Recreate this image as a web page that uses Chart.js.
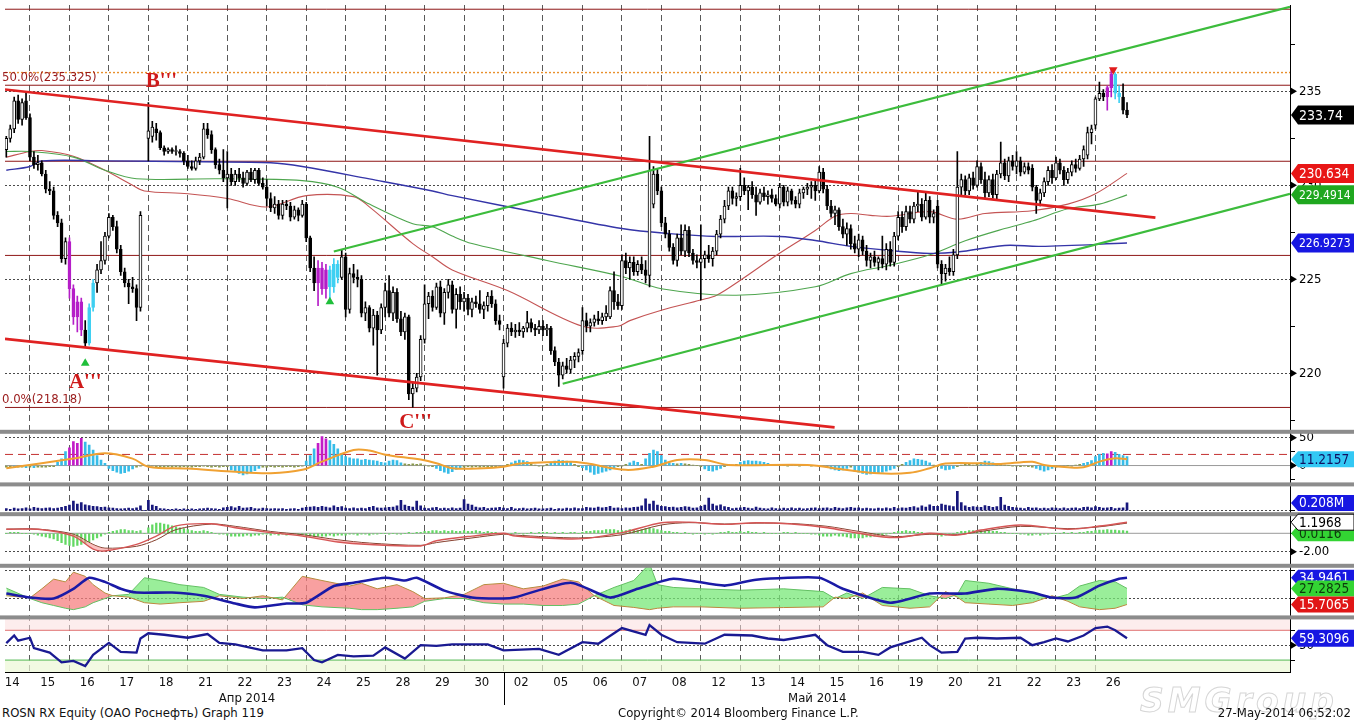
<!DOCTYPE html>
<html><head><meta charset="utf-8">
<script src="https://cdn.jsdelivr.net/npm/chart.js@4.4.1/dist/chart.umd.min.js"></script>
<style>
html,body{margin:0;padding:0;background:#fff;}
#wrap{position:relative;width:1354px;height:723px;overflow:hidden;background:#fff;}
#cv{position:absolute;left:0;top:0;width:1354px;height:705px;}
.ft{position:absolute;top:705px;font:13px "DejaVu Sans Condensed","DejaVu Sans",sans-serif;color:#111;white-space:nowrap;}
#wm{position:absolute;left:1140px;top:681px;font:italic bold 33px "DejaVu Sans",sans-serif;color:#fff;-webkit-text-stroke:1px #d6d6d6;letter-spacing:4px;}
</style></head>
<body><div id="wrap"><div id="cv"><canvas id="c"></canvas></div>
<div id="wm">SMGroup</div>
<div class="ft" style="left:2px">ROSN RX Equity (ОАО Роснефть) Graph 119</div>
<div class="ft" style="left:618px">Copyright© 2014 Bloomberg Finance L.P.</div>
<div class="ft" style="right:3px">27-May-2014 06:52:02</div>
</div>
<script>
// ---------------- DATA ----------------
const dayLabels = ['14','15','16','17','18','21','22','23','24','25','28','29','30','02','05','06','07','08','12','13','14','15','16','19','20','21','22','23','26'];
const barsPerDay = [6,10,10,10,10,10,10,10,10,10,10,10,10,10,10,10,10,10,10,10,10,10,10,10,10,10,10,10,9];
const monthLabels = ['Апр 2014','Май 2014'];
const monthFirstDay = [0,13];

// hourly candles [open, high, low, close]
const candles = [
[231.9,232.6,231.5,232.5],[232.5,233.2,232.3,233.0],[233.0,234.7,232.8,234.5],[234.5,234.8,233.3,233.5],[233.5,234.6,233.2,234.4],[234.5,234.9,233.5,233.6],
[233.6,233.8,231.3,231.5],[231.5,231.8,230.9,231.1],[231.1,231.6,230.8,231.2],[231.2,231.3,230.5,230.6],[230.6,230.8,229.6,229.8],[229.8,230.2,229.5,229.7],[229.7,229.9,228.2,228.4],[228.4,228.6,227.8,228.0],[228.0,228.2,225.9,226.1],[226.1,227.2,225.8,227.0],
[227.0,227.2,224.0,224.5],[224.5,224.7,222.6,223.0],[223.0,224.1,222.2,223.8],[223.8,224.0,222.0,222.3],[222.3,222.8,221.4,221.6],[221.6,223.7,221.5,223.5],[223.5,225.0,223.3,224.8],[224.8,225.8,224.3,225.5],[225.5,227.0,225.3,226.0],[226.0,227.5,225.8,227.3],
[227.3,228.5,227.2,228.3],[228.3,228.4,227.6,227.8],[227.8,228.1,226.4,226.6],[226.6,226.8,225.2,225.4],[225.4,225.6,224.6,224.8],[224.8,225.0,223.7,224.6],[224.6,225.1,224.3,224.5],[224.5,224.7,222.8,223.5],[223.5,228.6,223.3,228.4],null,
[232.5,234.4,231.3,232.9],[232.6,233.4,232.3,233.1],[233.0,233.3,232.4,232.8],[232.8,232.9,231.9,232.0],[232.0,232.1,231.6,231.8],[231.8,232.0,231.7,231.9],[231.9,232.0,231.7,231.8],[231.8,232.1,231.6,231.8],[231.8,231.9,231.5,231.7],[231.7,231.8,231.1,231.3],
[231.3,231.6,230.9,231.0],[231.0,231.3,230.8,230.9],[230.9,231.5,230.8,231.3],[231.3,231.7,231.1,231.5],[231.5,233.3,231.4,233.0],[233.0,233.3,232.5,232.7],[232.7,232.9,231.7,231.9],[231.9,232.0,230.9,231.1],[231.1,231.4,230.6,230.8],[230.8,231.9,230.2,230.4],
[230.4,231.8,228.8,230.6],[230.6,230.9,230.0,230.2],[230.2,230.8,230.0,230.6],[230.6,230.9,230.2,230.4],[230.4,230.7,229.9,230.1],[230.1,230.8,230.0,230.7],[230.7,230.9,230.2,230.3],[230.3,230.9,230.1,230.8],[230.8,230.9,230.0,230.1],[230.1,230.4,229.8,229.9],
[229.9,230.3,228.9,229.3],[229.3,229.6,228.6,228.8],[228.8,229.4,228.5,229.0],[229.0,229.2,228.2,228.4],[228.4,229.2,228.2,229.0],[229.0,229.2,228.7,228.9],[228.9,229.1,228.1,228.3],[228.3,228.9,228.2,228.7],[228.7,228.8,228.1,228.4],[228.4,229.2,228.3,229.0],
[229.0,229.1,227.0,227.2],[227.2,227.3,225.4,225.6],[225.6,226.2,224.4,224.8],[224.8,226.0,223.6,225.6],[225.6,225.9,224.2,224.5],[224.5,225.8,224.0,225.5],[225.5,225.7,224.0,224.6],[224.6,226.1,224.3,225.8],[225.8,226.0,224.8,225.1],[225.1,226.6,225.0,226.2],
[226.2,226.4,223.0,223.4],[223.4,225.6,223.2,225.3],[225.3,225.8,224.8,225.1],[225.1,225.5,224.6,225.0],[225.0,225.2,223.0,223.2],[223.2,223.8,222.8,223.5],[223.5,223.6,222.2,222.4],[222.4,223.4,221.5,223.1],[223.1,223.3,219.9,222.3],[222.3,223.7,222.1,223.5],
[223.5,224.8,223.0,224.4],[224.4,225.2,223.0,223.2],[223.2,224.6,222.8,224.3],[224.3,224.5,222.7,222.9],[222.9,223.3,222.0,222.2],[222.2,223.2,221.8,223.0],[223.0,223.1,218.6,218.9],[218.9,219.5,218.2,219.2],[219.2,220.0,219.0,219.8],[219.8,222.0,219.6,221.8],
[221.8,224.7,221.6,223.7],[223.7,224.3,222.9,224.1],[224.1,224.4,223.3,223.5],[223.5,224.8,223.4,224.6],[224.6,224.9,223.0,223.2],[223.2,224.5,222.6,224.3],[224.3,225.0,224.0,224.7],[224.7,224.9,223.2,223.4],[223.4,224.5,222.4,224.2],[224.2,224.6,223.4,223.8],
[223.8,224.3,223.3,224.0],[224.0,224.2,223.1,223.4],[223.4,224.0,223.0,223.8],[223.8,224.1,223.5,223.7],[223.7,224.4,223.2,223.4],[223.4,223.8,222.9,223.6],[223.6,224.3,223.3,224.1],[224.1,224.4,223.5,223.7],[223.7,223.9,222.6,222.8],[222.8,223.1,222.3,222.6],
[219.8,221.8,219.2,221.6],[221.6,222.6,221.4,222.4],[222.4,222.7,222.0,222.2],[222.2,222.6,221.9,222.3],[222.3,222.7,222.0,222.2],[222.2,222.5,221.9,222.4],[222.4,223.3,222.2,222.7],[222.7,222.9,222.2,222.4],[222.4,222.6,222.0,222.3],[222.3,222.8,222.1,222.5],
[222.5,222.8,222.0,222.3],[222.3,222.6,222.0,222.4],[222.4,222.5,221.0,221.2],[221.2,221.4,220.4,220.6],[220.6,220.8,219.3,219.9],[219.9,220.6,219.7,220.4],[220.4,220.8,220.0,220.2],[220.2,220.9,220.0,220.7],[220.7,221.1,220.3,220.9],[220.9,221.3,220.6,221.1],
[221.2,223.5,221.0,222.8],[222.8,223.2,222.2,222.5],[222.5,222.9,222.2,222.7],[222.7,223.1,222.5,222.9],[222.9,223.3,222.6,222.8],[222.8,223.2,222.6,223.0],[223.0,223.6,222.8,223.2],[223.0,224.6,222.9,224.4],[224.4,225.4,223.4,223.8],[223.8,224.2,223.4,223.6],
[223.6,226.3,223.4,226.0],[226.0,226.4,225.3,225.6],[225.6,226.2,225.0,225.9],[225.9,226.2,225.2,225.4],[225.4,226.0,225.2,225.8],[225.8,226.2,225.3,225.5],[225.5,226.0,224.8,225.2],[225.2,232.6,224.6,230.8],[229.0,231.0,228.8,230.6],[230.6,230.9,229.5,229.7],
[229.7,229.9,227.8,228.0],[228.0,228.3,227.2,227.4],[227.4,227.6,226.5,226.7],[226.7,226.9,225.8,226.0],[226.0,227.4,225.7,227.2],[227.2,227.9,226.3,226.5],[226.5,227.9,226.2,227.6],[227.6,227.8,226.2,226.4],[226.4,226.6,225.8,226.0],[226.0,226.3,225.6,225.9],
[225.9,227.9,223.9,226.1],[226.1,226.5,225.6,226.3],[226.3,226.8,225.9,226.1],[226.1,226.7,225.7,226.5],[226.5,227.6,226.3,227.4],[227.4,228.4,227.2,228.2],[228.2,229.2,228.0,228.9],[228.9,229.9,228.7,229.7],[229.7,229.9,229.0,229.3],[229.3,229.6,228.9,229.4],
[229.4,230.9,229.2,230.0],[230.0,230.4,229.5,229.7],[229.7,230.0,228.7,229.9],[229.9,230.2,229.3,229.5],[229.5,229.9,228.4,229.1],[229.1,229.8,229.0,229.6],[229.6,229.9,229.2,229.4],[229.4,229.7,229.0,229.5],[229.5,229.8,229.1,229.3],[229.3,229.5,228.9,229.0],
[229.0,230.1,228.8,229.9],[229.9,230.0,228.9,229.1],[229.1,229.9,228.9,229.7],[229.7,229.8,229.0,229.2],[229.2,229.4,228.8,229.0],[229.0,229.8,228.8,229.6],[229.6,229.9,229.3,229.8],[229.8,230.1,229.5,229.9],[229.9,230.2,229.3,230.0],[230.0,230.3,229.2,229.7],
[229.7,231.0,229.6,230.7],[230.7,230.9,229.6,229.8],[229.8,230.0,228.7,228.9],[228.9,229.2,228.3,228.5],[228.5,228.9,227.9,228.7],[228.7,228.8,227.6,227.8],[227.8,228.2,227.2,227.4],[227.4,228.0,226.8,227.7],[227.7,227.9,226.6,226.9],[226.9,227.3,226.4,226.6],
[226.6,227.4,226.2,227.1],[227.1,227.3,226.3,226.5],[226.5,226.8,225.7,226.0],[226.0,226.4,225.6,226.2],[226.2,226.5,225.7,225.9],[225.9,226.2,225.5,226.1],[226.1,227.3,225.6,225.8],[225.8,226.9,225.5,226.6],[226.6,227.0,225.7,225.9],[225.9,227.5,225.7,227.3],
[227.3,228.6,227.1,228.3],[228.3,228.6,227.5,227.8],[227.8,228.9,227.6,228.6],[228.6,228.9,228.0,228.2],[228.2,229.1,228.0,228.9],[228.9,229.7,228.6,229.0],[229.0,229.3,228.1,228.3],[228.3,229.6,228.2,229.2],[229.2,229.4,228.0,228.3],[228.3,228.7,228.0,228.5],
[228.9,229.2,225.6,225.8],[225.8,226.0,224.7,225.3],[225.3,225.8,224.9,225.6],[225.6,226.2,225.2,225.4],[225.4,226.6,225.2,226.3],[226.3,231.8,226.1,229.9],[229.9,230.6,229.4,230.3],[230.3,230.5,229.5,229.7],[229.7,230.6,229.5,230.4],[230.4,230.7,229.8,230.0],
[230.0,231.3,229.9,231.0],[231.0,231.2,230.1,230.3],[230.3,230.7,229.3,229.6],[229.6,230.5,229.4,230.3],[230.3,230.6,229.3,229.5],[229.5,230.8,229.2,230.6],[230.6,232.3,230.4,231.2],[231.2,231.4,230.3,230.5],[230.5,231.5,230.2,231.3],[231.3,231.6,230.8,231.0],
[231.0,231.8,230.6,231.3],[231.3,231.5,230.5,230.7],[230.7,231.2,230.6,231.0],[231.0,231.2,230.6,230.8],[230.9,231.1,229.7,229.9],[229.9,230.0,228.5,229.2],[229.2,229.8,228.9,229.6],[229.6,230.4,229.4,230.2],[230.2,231.0,230.0,230.8],[230.8,231.1,230.1,230.4],
[230.4,231.5,230.3,231.2],[231.2,231.4,230.6,230.8],[230.8,231.0,230.0,230.3],[230.3,230.9,230.1,230.7],[230.7,231.3,230.5,231.1],[231.1,231.4,230.7,230.9],[230.9,231.6,230.8,231.4],[231.4,232.1,231.0,231.9],[231.6,233.1,231.4,232.8],[232.8,233.2,232.2,233.0],
[233.2,234.7,233.0,234.6],[234.6,235.5,234.5,234.9],[234.9,235.1,234.5,234.7],[234.7,235.3,234.0,235.2],[235.2,236.2,234.7,235.9],[235.9,236.0,234.6,234.9],[234.9,235.3,234.4,234.7],[234.7,235.4,233.8,234.0],[234.0,234.4,233.6,233.74]
];
const sellSetup = [16,17,18,19,79,80,81,279,280];
const buySetup  = [21,22,82,83,84,281,282];

// moving averages [barIndex, price]
const blueMA = [[0,230.8],[6,231.0],[9,231.3],[25,231.3],[50,231.25],[67,231.2],[75,231.0],[92,230.34],[108,229.7],[113,229.45],[136,228.5],[156,227.7],[168,227.43],[180,227.28],[196,227.28],[205,227.06],[214,226.75],[224,226.53],[234,226.38],[241,226.45],[253,226.8],[262,226.75],[284,226.9273]];
const greenMA = [[0,231.8],[6,231.8],[17,231.5],[25,230.8],[33,230.35],[54,230.35],[75,230.25],[84,229.9],[92,229.0],[103,227.95],[108,227.8],[113,227.3],[118,226.9],[137,226.0],[156,225.15],[166,224.5],[185,224.15],[205,224.6],[214,225.3],[224,225.75],[234,226.3],[243,227.05],[253,227.7],[260,228.1],[269,228.75],[277,229.0],[284,229.4914]];
const redMA = [[0,231.5],[6,231.8],[9,231.85],[17,231.55],[25,230.8],[32,230.0],[35,229.7],[46,229.55],[56,229.3],[66,228.85],[76,229.45],[88,229.4],[92,228.85],[103,226.9],[108,226.2],[113,225.5],[127,224.4],[146,222.5],[155,222.5],[158,222.8],[166,223.35],[176,223.9],[180,224.15],[186,224.95],[195,226.25],[205,227.6],[210,228.35],[214,228.5],[219,228.4],[224,228.35],[234,228.6],[241,228.2],[248,228.5],[260,228.65],[269,229.0],[276,229.55],[284,230.634]];

// trend channels [barIndex, price]
const redUpper = [[-0.33,235.1],[291.2,228.28]];
const redLower = [[-0.33,221.83],[209.9,217.12]];
const greenUpper = [[83,226.48],[325.3,239.5]];
const greenLower = [[141,219.44],[325.3,229.55]];

const fibPct = [0,23.6,38.2,50,61.8];
const fibLevels = [218.18,226.27,231.28,235.325,239.37];
const fibLabelled = [0,50];
const highLevel = [236.0];

const buySignals = [[20,220.53],[82,223.8]];
const sellSignals = [[280.5,236.15]];
const waveNames = ["A'''","B'''","C'''"];
const waveIdx = [20,39.3,103.7];
const wavePrice = [219.52,235.53,217.4];

// oscillator panel
const oscHist = [
-3,-3,-4,-3,-3,-4,
-3,-4,-3,-3,-3,-2,-2,6,12,25,
32,43,40,49,42,37,28,18,10,4,
-5,-9,-12,-14,-13,-10,-6,-3,-1,0,
1,-1,-2,-2,-3,-2,-3,-2,-3,-2,
-2,-3,-2,-2,-1,-2,-3,-2,-3,-2,
-2,-8,-10,-14,-17,-15,-12,-9,-5,-3,
-3,-2,-3,-2,-3,-2,-2,-3,-2,-1,
8,18,30,40,52,48,45,38,30,22,
16,14,12,12,10,11,10,9,8,6,
5,8,10,9,5,3,2,3,2,3,
1,-1,-2,-5,-9,-12,-14,-11,-7,-4,
-3,-2,-3,-2,-3,-2,-3,-2,-2,-1,
-1,2,5,8,10,9,7,3,1,-1,
-1,2,5,8,10,9,8,6,2,-2,
-4,-8,-12,-16,-14,-12,-10,-8,-5,-2,
-1,2,5,8,6,2,12,22,28,25,
18,10,5,4,3,4,3,2,1,0,
-2,-6,-9,-10,-8,-5,-2,0,1,2,
6,8,9,8,8,7,6,4,2,1,
1,0,-1,1,0,-1,1,0,-1,0,
0,-1,-3,-6,-8,-9,-8,-5,-3,-10,
-12,-14,-16,-15,-14,-13,-12,-10,-8,-5,
-2,2,6,9,12,11,10,8,5,1,
-2,-5,-8,-7,-5,-2,1,3,2,1,
3,6,8,7,5,3,2,1,0,-1,
-1,-2,-1,-2,-3,-5,-8,-10,-8,-5,
-3,-2,-1,0,-1,1,2,4,6,9,
16,20,22,21,25,24,20,18,16];
const oscSignal = [[0,-4.8],[17,12.5],[25,22],[32,12.5],[36,-2],[46,-5.5],[57,-10.7],[67,-13.7],[75,-7.7],[80,7],[88,28],[92,27],[96,19.6],[105,10.7],[109,4.2],[113,-4.8],[121,-4.8],[126,-2],[131,4],[143,7],[147,4],[157,-7.7],[164,-2],[170,10],[177,10],[183,1.2],[203,1.2],[212,-7],[221,-14],[229,-13],[234,-4.8],[238,3.6],[247,4],[252,3],[260,7],[263,1],[269,-3],[273,-3],[277,7],[281,13],[284,11.2157]];
const oscLevels = [0,20];

// volume (thousand shares)
const volume = [
60,40,70,50,60,80,
50,90,70,60,70,80,60,70,90,120,
150,260,180,220,160,140,120,110,90,100,
80,70,60,50,60,70,60,80,130,0,
280,150,120,60,50,40,40,50,40,50,
40,50,40,50,60,70,60,50,40,80,
90,110,80,120,70,80,90,60,50,70,
60,50,60,50,60,40,50,60,40,70,
90,100,110,90,120,100,80,130,90,110,
70,60,80,60,70,60,90,120,80,70,
80,90,100,130,280,150,120,100,260,130,
70,60,80,90,60,70,60,80,60,70,
300,180,150,100,80,90,60,70,80,90,
70,60,90,50,60,70,50,60,70,50,
50,60,70,40,60,50,70,60,80,60,
60,90,80,70,100,80,90,120,70,80,
60,80,70,90,100,130,320,180,260,150,
120,110,90,100,80,90,110,100,70,80,
120,150,340,180,130,160,110,90,60,70,
80,90,70,60,100,70,60,50,80,60,
50,70,60,80,60,70,50,60,70,80,
60,70,80,60,90,70,60,80,90,70,
80,60,70,60,50,70,60,80,60,90,
60,80,70,90,110,80,130,100,160,120,
120,180,150,130,110,520,220,130,90,110,
100,90,140,120,90,110,360,150,120,90,
80,70,60,90,70,80,60,70,60,80,
70,60,80,60,70,80,60,90,100,80,
110,90,70,80,90,60,70,80,208];

// MACD panel
const macdLine = [[0,0.43],[8,0.43],[17,-0.3],[22,-1.7],[25,-1.9],[33,-1.2],[38,-0.3],[43,0.8],[52,1.03],[58,0.6],[67,0.07],[75,-0.3],[84,-0.93],[92,-1.2],[105,-1.36],[109,-0.8],[118,-0.3],[126,0],[129,-0.3],[145,-0.6],[156,0.07],[166,1.14],[173,1.2],[182,0.96],[190,1.14],[199,1.0],[208,0.6],[216,0],[225,-0.47],[234,0],[241,-0.2],[247,0.35],[257,0.9],[269,0.43],[277,0.78],[284,1.1968]];
const macdSignal = [[0,0.45],[8,0.45],[17,-0.1],[22,-1.2],[25,-1.6],[33,-1.4],[38,-0.7],[43,0.4],[52,1.0],[58,0.75],[67,0.2],[75,-0.15],[84,-0.7],[92,-1.05],[105,-1.3],[109,-1.0],[118,-0.5],[126,-0.1],[129,-0.2],[145,-0.5],[156,-0.15],[166,0.9],[173,1.15],[182,1.0],[190,1.1],[199,1.05],[208,0.75],[216,0.2],[225,-0.35],[234,-0.1],[241,-0.15],[247,0.2],[257,0.75],[269,0.5],[277,0.7],[284,1.1]];
const macdHist = [
0,0.1,0.1,0.1,0,0,
0,-0.1,-0.2,-0.3,-0.4,-0.5,-0.6,-0.8,-1.0,-1.2,
-1.3,-1.4,-1.3,-1.2,-1.1,-0.9,-0.7,-0.5,-0.3,-0.1,
0.1,0.2,0.3,0.4,0.4,0.3,0.3,0.2,0.3,0,
0.6,0.9,1.1,1.1,1.0,0.9,0.8,0.7,0.6,0.5,
0.4,0.3,0.2,0.2,0.3,0.2,0.1,0,-0.1,-0.1,
-0.2,-0.3,-0.3,-0.3,-0.3,-0.2,-0.3,-0.2,-0.2,-0.1,
-0.1,-0.2,-0.1,-0.2,-0.1,-0.2,-0.1,-0.1,-0.2,-0.2,
-0.3,-0.3,-0.4,-0.3,-0.3,-0.3,-0.2,-0.3,-0.2,-0.2,
-0.2,-0.1,-0.1,-0.2,-0.1,-0.1,-0.2,-0.1,-0.1,0,
0,-0.1,0,-0.1,-0.1,0,0.1,0,0.1,0.1,
0.2,0.2,0.3,0.3,0.2,0.3,0.2,0.3,0.2,0.2,
0.3,0.2,0.2,0.3,0.2,0.1,0.2,0.1,0.1,0,
0,-0.1,0,0.1,0,-0.1,0,0.1,0,0.1,
0.1,0.1,0,0.1,0,0.1,0,0.1,0.1,0,
0.1,0.2,0.2,0.3,0.3,0.3,0.4,0.4,0.4,0.3,
0.3,0.3,0.4,0.4,0.3,0.4,0.5,0.55,0.5,0.4,
0.3,0.2,0.2,0.1,0.1,0,0.1,0,-0.1,0,
0,-0.1,0,-0.1,0,0.1,0.1,0.2,0.1,0.1,
0.2,0.1,0.2,0.1,0.1,0,0.1,0,0,0,
0,0.1,0.1,0,0.1,0,0,0,-0.1,-0.1,
-0.2,-0.3,-0.3,-0.3,-0.2,-0.3,-0.3,-0.4,-0.5,-0.5,
-0.5,-0.5,-0.4,-0.4,-0.3,-0.3,-0.2,-0.1,0,0.1,
0.2,0.2,0.3,0.2,0.2,0.1,0.1,0,-0.1,-0.1,
-0.2,-0.3,-0.2,-0.1,0,0.1,0.2,0.2,0.3,0.3,
0.3,0.3,0.2,0.3,0.2,0.2,0.1,0.1,0,0,
0,-0.1,-0.1,-0.2,-0.2,-0.1,-0.2,-0.1,-0.1,0,
0,0,0.1,0,0.1,0,0.1,0.1,0.2,0.2,
0.3,0.35,0.35,0.4,0.35,0.35,0.3,0.3,0.25];

// DMI panel
const dmiIdx = [0,6,9,12,15,17,20,22,25,27,31,35,39,44,50,54,60,65,70,75,80,87,90,94,99,103,106,111,116,121,126,131,136,141,145,149,154,159,163,165,169,176,186,197,207,210,213,217,222,229,234,238,241,243,249,255,260,265,269,272,277,281,284];
const dmiPlus = [27.5,20,17,15,13,12,14,17,20,22,23,35,33,30,28,23,21,20,21,15.5,14,13,12,12,13,14,18,20,20,17,16,16,15,15,16,22,28,33,45,30,28,27,26,27,25,20,24,20,28,27,22,20,23,33,31,27,24,20,23,29,33,32,27.2825];
const dmiMinus = [22,20.5,27,34,32,39,36,30,24,22,21,17,16,17,18,22,20,22,19,36,33,29,31,27,30,25,20,20.5,23,30,31,27,29,34,32,22,15,13.6,12,13,14,14,13,13.5,14,21,20,24,15,13,14,25,21,17,16,15,17,22,18,14,12,13,15.7065];
const adx = [[0,23.6],[6,20.7],[12,20],[17,27],[21,35],[25,32],[29,27],[33,24.3],[42,24.3],[50,22],[58,16.4],[63,13.6],[71,16.4],[76,17],[83,29],[88,31.4],[96,35],[101,33],[104,35],[111,25.7],[118,20.7],[126,20],[129,21],[143,31.4],[153,20.7],[160,27],[169,34.3],[182,29.3],[190,33.6],[206,35],[212,27],[224,17],[234,23.6],[243,23.6],[251,27],[260,24.3],[265,20.7],[271,20.7],[277,29.3],[282,34.3],[284,34.9461]];

// RSI panel
const rsi = [[0,52.7],[2,63],[3,56],[6,60],[7,46],[11,40],[14,27],[17,29],[20,22],[22,37],[26,53],[29,41],[33,40],[34,59],[36,66],[40,64],[46,60],[51,65],[54,53],[58,51],[65,43],[71,43],[75,46],[78,30],[80,27],[84,37],[88,35],[93,36],[96,47],[101,32],[105,50],[109,49],[113,51],[122,51],[126,43],[135,45],[140,37],[146,54],[150,52],[156,73],[162,64],[163,77],[166,64],[170,54],[177,52],[182,64],[189,63],[193,59],[197,57],[205,64],[208,50],[212,41],[217,41],[221,37],[224,47],[232,60],[234,50],[237,40],[241,41],[243,59],[246,60],[251,59],[257,60],[260,50],[263,54],[266,59],[269,55],[273,63],[276,73],[279,75],[281,70],[284,59.3096]];
const rsiLevels = [70,30];

// last-value tags
const mainTags = [233.74,230.634,229.4914,226.9273];
const oscTags = [11.2157];
const volTags = [208];
const macdTags = [0.0116,1.1968];
const dmiTags = [34.9461,27.2825,15.7065];
const rsiTags = [59.3096];

// ---------------- BUILD ----------------
const FONT = '"DejaVu Sans Condensed","DejaVu Sans",sans-serif';
const X_MIN = -0.33, X_MAX = 325.3;
const dayStarts = []; { let a = 0; barsPerDay.forEach(n => { dayStarts.push(a); a += n; }); }
const totalBars = dayStarts[dayStarts.length-1] + barsPerDay[barsPerDay.length-1];
const fullStart = d => d === 0 ? dayStarts[1] - barsPerDay[1] : dayStarts[d];
const dayCenters = dayLabels.map((_, d) => d === 0 ? 1.5 : dayStarts[d] + (barsPerDay[1]-1)/2);
const monthCenters = monthFirstDay.map((d, m) => {
  const s = fullStart(d);
  const e = m + 1 < monthFirstDay.length ? dayStarts[monthFirstDay[m+1]] : totalBars;
  return (s + e) / 2;
});

const P = arr => arr.map(([x, y]) => ({x, y}));
const H = v => [{x: X_MIN, y: v}, {x: X_MAX, y: v}];
const line = (yAxisID, data, color, width, extra) => Object.assign({type:'line', xAxisID:'x', yAxisID, data, borderColor:color, borderWidth:width, pointRadius:0, fill:false, tension:0}, extra || {});
const bars = (yAxisID, data, thick, color, extra) => Object.assign({type:'bar', xAxisID:'x', yAxisID, data, barThickness:thick, grouped:false, backgroundColor:color, borderWidth:0}, extra || {});

const tone = i => sellSetup.includes(i) ? '#b51ec8' : (buySetup.includes(i) ? '#3fd0f2' : null);
const rows = candles.map((c, i) => c ? {i, o:c[0], h:c[1], l:c[2], c:c[3]} : null).filter(Boolean);

const D = [];
// main panel
D.push({type:'scatter', xAxisID:'x', yAxisID:'y', data:P(buySignals), pointStyle:'triangle', pointRadius:5, backgroundColor:'#1fbf3a', borderColor:'#1fbf3a', borderWidth:0, order:0});
D.push({type:'scatter', xAxisID:'x', yAxisID:'y', data:P(sellSignals), pointStyle:'triangle', rotation:180, pointRadius:5, backgroundColor:'#e01c1c', borderColor:'#e01c1c', borderWidth:0, order:0});
D.push(line('y', P(redUpper), '#e02222', 2.6, {order:1}));
D.push(line('y', P(redLower), '#e02222', 2.6, {order:1}));
D.push(line('y', P(greenUpper), '#3cbc3c', 2.2, {order:1}));
D.push(line('y', P(greenLower), '#3cbc3c', 2.2, {order:1}));
D.push(bars('y', rows.map(r => ({x:r.i, y:[r.o, r.c]})), 3,
  ctx => { const r = ctx.raw; if (!r) return '#000'; return tone(r.x) || (r.y[1] >= r.y[0] ? '#ffffff' : '#000000'); },
  {borderColor: ctx => (ctx.raw && tone(ctx.raw.x)) || '#000', borderWidth:1, borderSkipped:false, minBarLength:1, order:2}));
D.push(bars('y', rows.map(r => ({x:r.i, y:[r.l, r.h]})), 1,
  ctx => (ctx.raw && tone(ctx.raw.x)) || '#000', {order:3}));
D.push(line('y', P(blueMA), '#3535a8', 1.4, {tension:0.35, order:4}));
D.push(line('y', P(greenMA), '#4fa64f', 1.1, {tension:0.35, order:4}));
D.push(line('y', P(redMA), '#c45454', 1.1, {tension:0.35, order:4}));
fibLevels.forEach(v => D.push(line('y', H(v), '#8e1616', 1, {order:5})));
highLevel.forEach(v => D.push(line('y', H(v), '#e8902c', 1.4, {borderDash:[2,2], order:5})));

// oscillator panel
D.push(line('yo', P(oscSignal), '#f0a132', 2, {tension:0.35, order:1}));
D.push(bars('yo', oscHist.map((v, i) => ({x:i, y:v})), 2,
  ctx => { const r = ctx.raw; if (!r) return '#33bbe6'; if (sellSetup.includes(r.x)) return '#c21cc8'; return Math.abs(r.y) <= 3 ? '#8a9a4c' : '#36bce8'; }, {order:3}));
D.push(line('yo', H(oscLevels[0]), '#9a9a9a', 1, {order:5}));
D.push(line('yo', H(oscLevels[1]), '#c43030', 1, {borderDash:[8,5], order:5}));

// volume panel
D.push(bars('yv', volume.map((v, i) => ({x:i, y:v})), 2, '#17177c', {order:3}));

// MACD panel
D.push(line('ym', P(macdLine), '#d65656', 1.4, {tension:0.3, order:1, fill:{target:'+1', above:'rgba(0,0,0,0)', below:'rgba(246,140,140,0.55)'}}));
D.push(line('ym', P(macdSignal), '#7a3a26', 1, {tension:0.3, order:2}));
D.push(bars('ym', macdHist.map((v, i) => ({x:i, y:v})), 1.6, '#62d862', {order:3}));
D.push(line('ym', H(0), '#9a9a9a', 1, {order:5}));

// DMI panel
D.push(line('yd', P(adx), '#1a1aa6', 2.6, {tension:0.2, order:1}));
D.push(line('yd', dmiIdx.map((x, k) => ({x, y:dmiMinus[k]})), '#b98a3e', 1, {order:2}));
D.push(line('yd', dmiIdx.map((x, k) => ({x, y:dmiPlus[k]})), '#63c063', 1, {order:3,
  fill:{target:'-1', above:'rgba(120,232,120,0.75)', below:'rgba(246,128,128,0.75)'}}));

// RSI panel
D.push(line('yr', P(rsi), '#1a1a92', 2.3, {order:1}));
D.push(line('yr', H(rsiLevels[0]), '#e07070', 1, {order:5}));
D.push(line('yr', H(rsiLevels[1]), '#52b852', 1, {order:5}));

// ---------------- SCALES ----------------
const zeroPad = s => { s.paddingTop = 0; s.paddingBottom = 0; s.paddingLeft = 0; s.paddingRight = 0; };
function yAxis(weight, min, max, tickVals, labelFn, gridFn) {
  return {
    type:'linear', position:'right', stack:'panels', stackWeight:weight, min, max, offset:false,
    afterBuildTicks: s => { s.ticks = tickVals.map(v => ({value:v})); },
    afterFit: s => { s.width = 64; zeroPad(s); },
    ticks: {autoSkip:false, padding:4, color:'#000', font:{family:FONT, size:13}, callback: v => labelFn(v)},
    grid: {drawTicks:true, tickLength:5, tickColor:'#000', tickWidth:1, lineWidth:1,
      color: c => (c.tick && gridFn(c.tick.value)) ? '#4a4a4a' : 'rgba(0,0,0,0)'},
    border: {display:true, color:'#000', width:1, dash:[2,2]}
  };
}
const xBase = {type:'linear', position:'bottom', min:X_MIN, max:X_MAX, offset:false};
const scales = {
  x: Object.assign({}, xBase, {
    afterBuildTicks: s => { s.ticks = dayStarts.slice(1).map(v => ({value:v})); },
    afterFit: s => { s.height = 0; zeroPad(s); },
    ticks: {display:false},
    grid: {display:true, offset:false, drawTicks:false, color:'#5a5a5a', lineWidth:1},
    border: {display:true, color:'#000', width:1, dash:[6,4]}
  }),
  xd: Object.assign({}, xBase, {
    afterBuildTicks: s => { s.ticks = dayCenters.map(v => ({value:v})); },
    afterFit: s => { s.height = 18; zeroPad(s); },
    ticks: {autoSkip:false, maxRotation:0, padding:3, color:'#111', font:{family:FONT, size:13}, callback: (v, i) => dayLabels[i]},
    grid: {display:false, offset:false, drawTicks:false},
    border: {display:false}
  }),
  xm: Object.assign({}, xBase, {
    afterBuildTicks: s => { s.ticks = monthCenters.map(v => ({value:v})); },
    afterFit: s => { s.height = 15; zeroPad(s); },
    ticks: {autoSkip:false, maxRotation:0, padding:1, color:'#111', font:{family:FONT, size:13}, callback: (v, i) => monthLabels[i]},
    grid: {display:false, offset:false, drawTicks:false},
    border: {display:false}
  }),
  y:  yAxis(430, 216.884, 239.595, [217.5,220,222.5,225,227.5,230,232.5,235,237.5], v => v % 5 === 0 ? String(v) : '', v => v % 5 === 0),
  yo: yAxis(53, -33.9, 60.7, [50,25,0,-25], v => (v === 50 || v === 0) ? String(v) : '', v => v === 50),
  yv: yAxis(30, -93, 703, [0], v => '', v => v === 0),
  ym: yAxis(52, -3.5, 2.06, [0,-2], v => v === -2 ? '-2.00' : '', v => v === -2),
  yd: yAxis(52, 6.4, 43.6, [40,20], v => '', v => true),
  yr: yAxis(55, 14, 87.3, [70,50,30], v => v === 50 ? '50' : '', v => v === 50)
};
const arrowTicks = {y:[220,225,230,235], yo:[50,0], ym:[-2], yr:[50]};

// ---------------- DECORATION PLUGIN ----------------
function drawTag(ctx, x0, y, w, h, bg, fg, text, size, stroke) {
  ctx.beginPath();
  ctx.moveTo(x0, y); ctx.lineTo(x0 + 7, y - h/2); ctx.lineTo(x0 + w, y - h/2);
  ctx.lineTo(x0 + w, y + h/2); ctx.lineTo(x0 + 7, y + h/2); ctx.closePath();
  ctx.fillStyle = bg; ctx.fill();
  if (stroke) { ctx.strokeStyle = stroke; ctx.lineWidth = 1; ctx.stroke(); }
  let fs = size;
  ctx.font = fs + 'px ' + FONT;
  while (fs > 10 && ctx.measureText(text).width > w - 11) { fs -= 0.5; ctx.font = fs + 'px ' + FONT; }
  ctx.fillStyle = fg; ctx.textAlign = 'left'; ctx.textBaseline = 'middle';
  ctx.fillText(text, x0 + 8, y + 1);
}
const decor = {
  id: 'decor',
  beforeDatasetsDraw(chart) {
    const {ctx, chartArea:a, scales:S} = chart;
    ctx.save();
    const y70 = S.yr.getPixelForValue(rsiLevels[0]), y30 = S.yr.getPixelForValue(rsiLevels[1]);
    ctx.fillStyle = 'rgba(252,222,222,0.55)'; ctx.fillRect(a.left, S.yr.top, a.right - a.left, y70 - S.yr.top);
    ctx.fillStyle = 'rgba(236,248,214,0.7)'; ctx.fillRect(a.left, y30, a.right - a.left, S.yr.bottom - y30);
    ctx.restore();
  },
  afterDraw(chart) {
    const {ctx, chartArea:a, scales:S} = chart;
    const W = chart.width;
    ctx.save();
    // fib labels
    ctx.font = '13px ' + FONT; ctx.fillStyle = '#9a1a1a'; ctx.textAlign = 'left'; ctx.textBaseline = 'bottom';
    fibPct.forEach((p, k) => {
      if (!fibLabelled.includes(p)) return;
      ctx.fillText(p.toFixed(1) + '%(' + fibLevels[k] + ')', 2, S.y.getPixelForValue(fibLevels[k]) - 1);
    });
    // wave labels
    ctx.font = 'bold 21px "Liberation Serif","DejaVu Serif",serif'; ctx.fillStyle = '#cf1a1a';
    ctx.textAlign = 'center'; ctx.textBaseline = 'middle';
    waveNames.forEach((t, k) => ctx.fillText(t, S.x.getPixelForValue(waveIdx[k]), S.y.getPixelForValue(wavePrice[k])));
    // axis arrows at labelled ticks
    ctx.fillStyle = '#000';
    Object.keys(arrowTicks).forEach(id => arrowTicks[id].forEach(v => {
      const py = S[id].getPixelForValue(v);
      ctx.beginPath(); ctx.moveTo(a.right + 1, py - 3.5); ctx.lineTo(a.right + 7, py); ctx.lineTo(a.right + 1, py + 3.5); ctx.closePath(); ctx.fill();
    }));
    // separators
    ['yo','yv','ym','yd','yr'].forEach(id => { ctx.fillStyle = '#8c8c8c'; ctx.fillRect(0, S[id].top - 2, W, 4); });
    // month boundaries
    ctx.strokeStyle = '#000'; ctx.lineWidth = 1;
    monthFirstDay.slice(1).forEach(d => {
      const px = Math.round(S.x.getPixelForValue(dayStarts[d])) + 0.5;
      ctx.beginPath(); ctx.moveTo(px, a.bottom); ctx.lineTo(px, chart.height); ctx.stroke();
    });
    // tags
    const x0 = a.right + 1, w = W - x0;
    const mainCols = [['#000','#fff'],['#e81616','#fff'],['#1fa71f','#fff'],['#1717e2','#fff']];
    mainTags.forEach((v, k) => drawTag(ctx, x0, S.y.getPixelForValue(v), w, 19, mainCols[k][0], mainCols[k][1], String(v), 14));
    oscTags.forEach(v => drawTag(ctx, x0, S.yo.getPixelForValue(v), w, 16, '#33c8f4', '#101060', String(v), 13.5));
    volTags.forEach(v => drawTag(ctx, x0, S.yv.getPixelForValue(v), w, 16, '#1717e2', '#fff', (v/1000) + 'M', 13.5));
    const macdCols = [['#33d433','#0c3a0c',null],['#ffffff','#000','#000']];
    macdTags.forEach((v, k) => drawTag(ctx, x0, S.ym.getPixelForValue(v), w, 16, macdCols[k][0], macdCols[k][1], String(v), 13.5, macdCols[k][2]));
    const dmiCols = [['#1717e2','#fff'],['#33d433','#0c3a0c'],['#e01616','#fff']];
    dmiTags.forEach((v, k) => drawTag(ctx, x0, S.yd.getPixelForValue(v), w, 16, dmiCols[k][0], dmiCols[k][1], String(v), 13.5));
    rsiTags.forEach(v => drawTag(ctx, x0, S.yr.getPixelForValue(v), w, 17, '#1717e2', '#fff', String(v), 14));
    ctx.restore();
  }
};

Chart.defaults.font.family = FONT;
new Chart(document.getElementById('c'), {
  type: 'line',
  data: {datasets: D},
  options: {
    responsive: true, maintainAspectRatio: false, animation: false, events: [],
    layout: {padding: 0},
    elements: {point: {radius: 0}},
    plugins: {legend: {display: false}, tooltip: {enabled: false}, title: {display: false}},
    scales
  },
  plugins: [decor]
});
</script>
</body></html>
